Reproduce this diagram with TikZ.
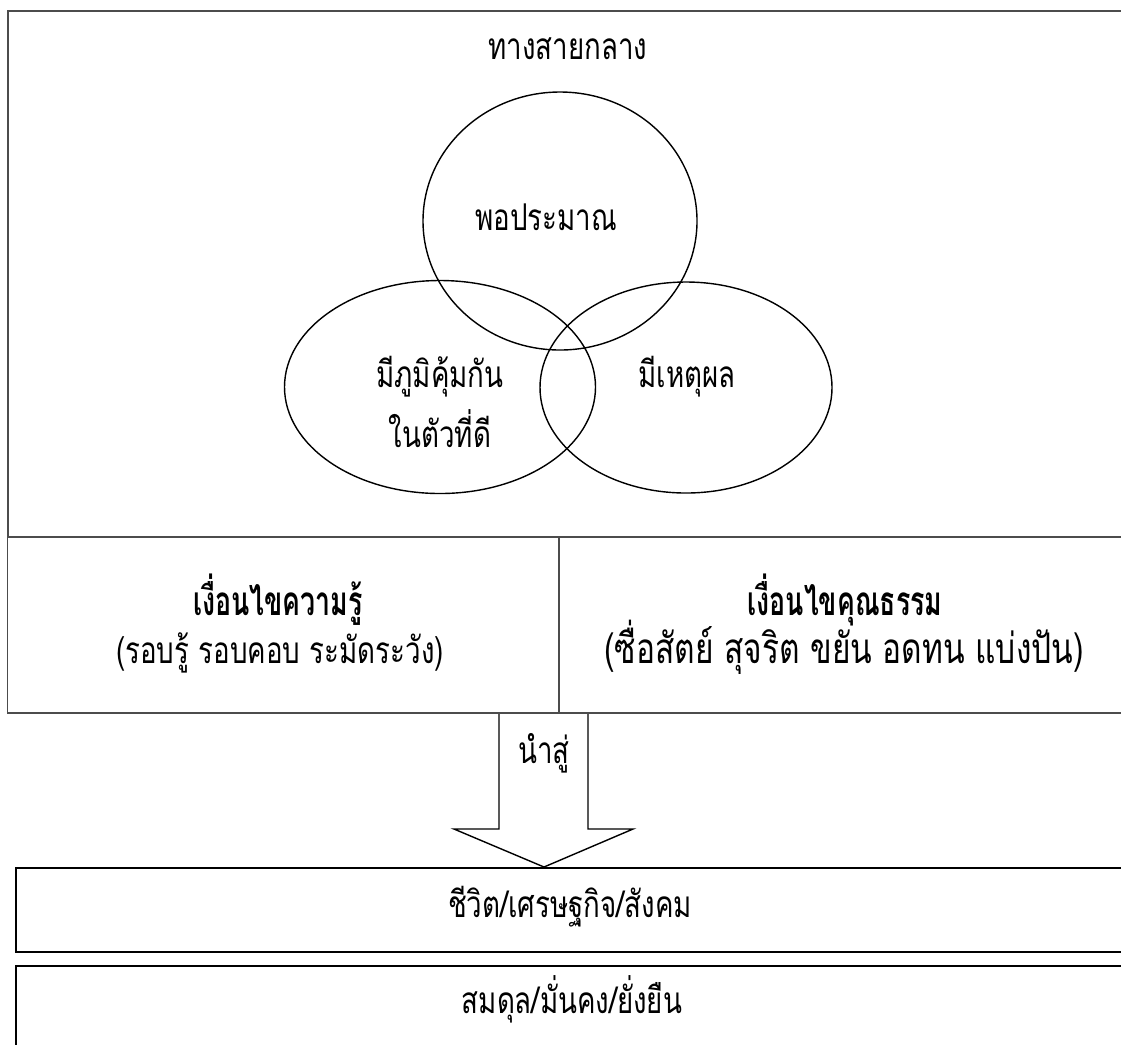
\documentclass[tikz,border=0pt]{standalone}
\usepackage{fontspec}
\setmainfont[Script=Thai, FakeStretch=0.75]{Loma}
\newfontfamily\thaibold[Script=Thai, FakeStretch=0.66]{Loma}
\usetikzlibrary{shapes.geometric}

\begin{document}
\begin{tikzpicture}[x=1cm, y=1cm, line width=0.5pt,
		txt/.style={anchor=base, inner sep=0pt, font=\fontsize{10.5}{13}\selectfont},
		bold/.style={anchor=base, inner sep=0pt, font=\fontsize{11.5}{14}\thaibold\bfseries},
		ring/.style={draw, ellipse, line width=0.4pt, inner sep=0pt}]
				\useasboundingbox (0,0) rectangle (11.21,-10.44);
				\clip (0,0) rectangle (11.21,-10.44);

				% Outer frame of the middle way
				\draw[draw=black!70] (11.5,-0.11) -- (0.08,-0.11) -- (0.08,-5.37) -- (11.5,-5.37);
				\node[txt] (middle) at (5.68,-0.59) {ทางสายกลาง};

				% Three circles
				\node[ring, minimum width=2.74cm, minimum height=2.58cm] (topring) at (5.60,-2.21) {};
				\node[ring, minimum width=3.11cm, minimum height=2.13cm] (leftring) at (4.40,-3.87) {};
				\node[ring, minimum width=2.92cm, minimum height=2.11cm] (rightring) at (6.86,-3.875) {};
				\node[txt] (moderate) at (5.46,-2.30) {พอประมาณ};
				\node[txt] (immunity) at (4.40,-3.87) {มีภูมิคุ้มกัน};
				\node[txt] (immunity2) at (4.40,-4.47) {ในตัวที่ดี};
				\node[txt] (reason) at (6.87,-3.87) {มีเหตุผล};

				% Conditions
				\draw[draw=black!70] (0.075,-5.37) -- (0.075,-7.13) -- (11.5,-7.13);
				\draw[draw=black!70] (5.59,-5.37) -- (5.59,-7.13);
				\node[bold] (knowledge) at (2.78,-6.15) {เงื่อนไขความรู้};
				\node[txt] (knowledge2) at (2.80,-6.63) {(รอบรู้ รอบคอบ ระมัดระวัง)};
				\node[bold] (virtue) at (8.45,-6.15) {เงื่อนไขคุณธรรม};
				\node[txt, font=\fontsize{12}{14}\selectfont] (virtue2) at (8.44,-6.63) {(ซื่อสัตย์ สุจริต ขยัน อดทน แบ่งปัน)};

				% Leads to
				\draw[line width=0.4pt] (4.99,-7.14) -- (4.99,-8.29) -- (4.54,-8.29) -- (5.44,-8.67)
					-- (6.33,-8.29) -- (5.88,-8.29) -- (5.88,-7.14);
				\node[txt] (leads) at (5.44,-7.63) {นำสู่};

				% Life
				\draw (11.5,-8.68) -- (0.16,-8.68) -- (0.16,-9.52) -- (11.5,-9.52);
				\node[txt] (life) at (5.70,-9.17) {ชีวิต/เศรษฐกิจ/สังคม};

				% Balance
				\draw (11.5,-9.66) -- (0.16,-9.66) -- (0.16,-10.6);
				\node[txt] (balance) at (5.72,-10.13) {สมดุล/มั่นคง/ยั่งยืน};
			\end{tikzpicture}
\end{document}
